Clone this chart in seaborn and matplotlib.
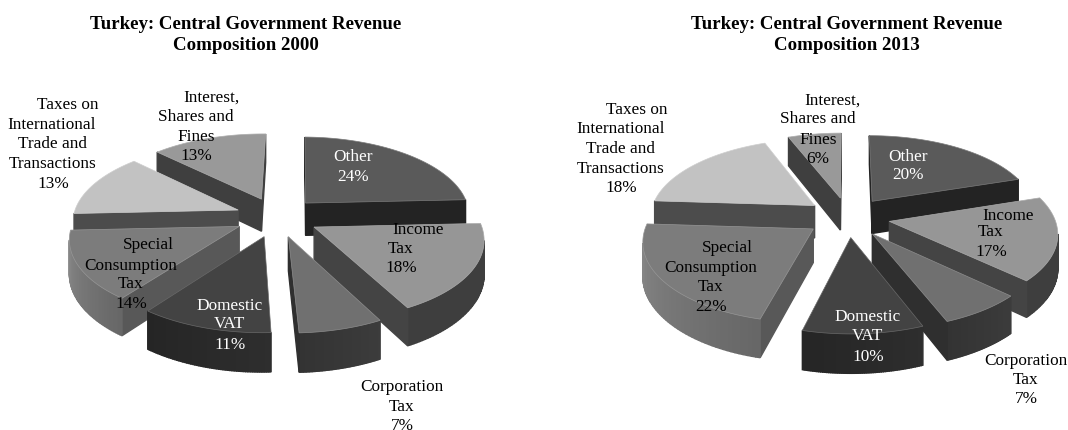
# Turkey: central government revenue composition, 2000 vs 2013
# exploded 3D pies, projected by hand because matplotlib has no 3D pie

import numpy as np
import matplotlib
matplotlib.use("Agg")
import matplotlib.pyplot as plt
from matplotlib.patches import Polygon
import seaborn as sns

names = ["Other", "Income\nTax", "Corporation\nTax", "Domestic\nVAT",
         "Special\nConsumption\nTax", "Taxes on\nInternational\nTrade and\nTransactions",
         "Interest,\nShares and\nFines"]
values_2000 = [24, 18, 7, 11, 14, 13, 13]
values_2013 = [20, 17, 7, 10, 22, 18, 6]
titles = ["Turkey: Central Government Revenue\nComposition 2000",
          "Turkey: Central Government Revenue\nComposition 2013"]

# greys per slice: top face, cut wall, outer wall gradient
top_col = ["#5a5a5a", "#969696", "#707070", "#434343", "#7c7c7c", "#c2c2c2", "#999999"]
cut_col = ["#232323", "#444444", "#2f2f2f", "#2a2a2a", "#585858", "#4c4c4c", "#3f3f3f"]
wall_col = [("#232323", "#232323"), ("#3e3e3e", "#3e3e3e"), ("#3c3c3c", "#333333"),
            ("#2e2e2e", "#252525"), ("#666666", "#8c8c8c"), ("#4c4c4c", "#4c4c4c"),
            ("#3f3f3f", "#3f3f3f")]
txt_col = ["white", "black", "black", "white", "black", "black", "black"]

# pixel layout of each label, one (x, y) per line, percent line included
pos_2000 = [[(353, 157), (353, 177)],
            [(418, 230), (401, 249), (401, 268)],
            [(402, 387), (402, 407), (402, 426)],
            [(230, 306), (230, 324), (230, 345)],
            [(148, 245), (131, 266), (131, 284), (131, 304)],
            [(68, 105), (52, 125), (53, 144), (53, 164), (53, 184)],
            [(211, 98), (196, 117), (196, 137), (196, 156)]]
pos_2013 = [[(908, 157), (908, 175)],
            [(1008, 216), (991, 232), (991, 252)],
            [(1026, 361), (1026, 380), (1026, 399)],
            [(868, 317), (868, 336), (868, 357)],
            [(727, 248), (711, 268), (711, 287), (711, 307)],
            [(637, 110), (621, 129), (621, 149), (621, 169), (621, 188)],
            [(832, 101), (818, 119), (818, 140), (818, 159)]]

sns.set_theme(style="white")
plt.rcParams["font.family"] = ["Liberation Serif", "DejaVu Serif"]

RX, RY = 165, 78     # plane radii in pixels
PERSP = 0.13         # perspective strength
DEPTH = 33
EXPLODE = 0.255


def project(px, py, cx, cy):
    s = 1 / (1 + PERSP * py)
    return cx + RX * px * s, cy - RY * py * s, s


def draw_pie(ax, values, cx, cy, start, positions):
    values = np.array(values, dtype=float)
    edges = start + np.cumsum(np.r_[0, values]) / values.sum() * 360
    mids = np.radians((edges[:-1] + edges[1:]) / 2)
    for i in np.argsort(-np.cos(mids)):
        ox, oy = EXPLODE * np.sin(mids[i]), EXPLODE * np.cos(mids[i])
        th = np.radians(np.linspace(edges[i], edges[i + 1], 60))
        px = np.r_[ox, ox + np.sin(th)]
        py = np.r_[oy, oy + np.cos(th)]
        x, y, s = project(px, py, cx, cy)
        n = len(x)
        ramp = sns.blend_palette(wall_col[i], n)
        for k in range(n):
            j = (k + 1) % n
            if x[j] >= x[k]:   # faces away from the viewer
                continue
            col = cut_col[i] if k == 0 or k == n - 1 else ramp[k]
            quad = [(x[k], y[k]), (x[j], y[j]),
                    (x[j], y[j] + DEPTH * s[j]), (x[k], y[k] + DEPTH * s[k])]
            ax.add_patch(Polygon(quad, closed=True, fc=col, ec=col, lw=1.0))
        rim = sns.blend_palette([top_col[i], "white"], 6)[1]
        ax.add_patch(Polygon(np.c_[x, y], closed=True, fc=top_col[i], ec=rim, lw=0.5))
    for i, name in enumerate(names):
        lines = name.split("\n") + [f"{values[i]:.0f}%"]
        for (tx, ty), line in zip(positions[i], lines):
            ax.text(tx, ty, line, ha="center", va="center", fontsize=12.4, color=txt_col[i])


fig, axes = plt.subplots(1, 2, figsize=(10.68, 4.31), dpi=100)
fig.subplots_adjust(left=0, right=1, top=1, bottom=0, wspace=0)
limits = [(0, 534), (534, 1068)]
for ax, lim in zip(axes, limits):
    ax.set_xlim(*lim)
    ax.set_ylim(431, 0)
    ax.axis("off")

draw_pie(axes[0], values_2000, 277, 218, 1, pos_2000)
draw_pie(axes[1], values_2013, 848, 218, 0, pos_2013)

axes[0].text(246, 35, titles[0], ha="center", va="center", fontsize=13.6,
             fontweight="bold", color="black", linespacing=1.36)
axes[1].text(847, 35, titles[1], ha="center", va="center", fontsize=13.6,
             fontweight="bold", color="black", linespacing=1.36)

fig.savefig("out.png", dpi=100, facecolor="white")
